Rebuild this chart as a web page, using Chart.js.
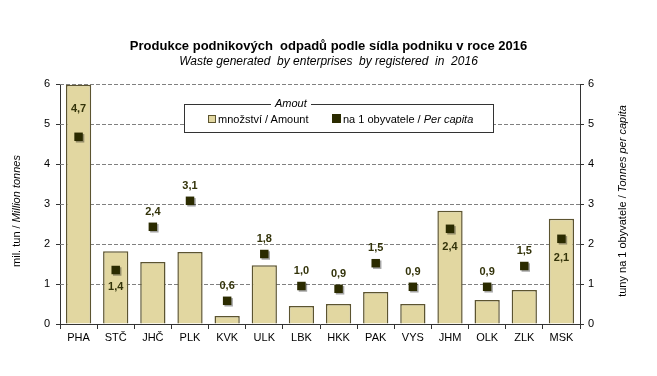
<!DOCTYPE html>
<html>
<head>
<meta charset="utf-8">
<script src="https://cdn.jsdelivr.net/npm/chart.js@4/dist/chart.umd.min.js"></script>
<style>
  body { margin: 0; background: #fff; }
  #wrap { position: relative; width: 657px; height: 376px; }
  #legend {
    position: absolute; left: 184px; top: 104px; width: 308px; height: 27px;
    border: 1px solid #333; background: #fff;
    font: 11px "Liberation Sans", Arial, sans-serif; color: #000;
  }
  #legend .ttl { position: absolute; left: 86px; top: -8px; padding: 0 4px; background: #fff; font-style: italic; }
  #legend .item { position: absolute; top: 8px; white-space: nowrap; }
  #legend .sw { display: inline-block; width: 6px; height: 6px; margin-right: 2px; vertical-align: 0px; }
</style>
</head>
<body>
<div id="wrap">
  <canvas id="chart"></canvas>
  <div id="legend">
    <span class="ttl">Amout</span>
    <span class="item" style="left:23px"><span class="sw" style="background:#e2d7a1;border:1px solid #5c5430"></span>množství / Amount</span>
    <span class="item" style="left:147px"><span class="sw" style="background:#2b2b00;border:1px solid #2b2b00;width:7px;height:7px"></span>na 1 obyvatele / <i>Per capita</i></span>
  </div>
</div>
<script>
// Data
const regions = ['PHA', 'STČ', 'JHČ', 'PLK', 'KVK', 'ULK', 'LBK', 'HKK', 'PAK', 'VYS', 'JHM', 'OLK', 'ZLK', 'MSK'];
const amount = [5.98, 1.82, 1.55, 1.80, 0.20, 1.47, 0.45, 0.50, 0.80, 0.50, 2.83, 0.60, 0.85, 2.63];   // mil. tun
const perCapita = [4.7, 1.4, 2.4, 3.1, 0.6, 1.8, 1.0, 0.9, 1.5, 0.9, 2.4, 0.9, 1.5, 2.1]; // label values
const perCapitaPos = [4.68, 1.35, 2.43, 3.08, 0.58, 1.75, 0.95, 0.88, 1.52, 0.93, 2.38, 0.93, 1.45, 2.13];
const yTicks = [0, 1, 2, 3, 4, 5, 6];

// label offset (px) from marker, negative = above
const labelDy = [-28, 17, -15, -15, -15, -15, -15, -15, -15, -15, 18, -15, -15, 19];

const FONT = '"Liberation Sans", Arial, sans-serif';

// dashed gridlines behind the bars
const gridPlugin = {
  id: 'dashGrid',
  beforeDatasetsDraw(chart) {
    const { ctx, chartArea: a, scales: { y } } = chart;
    ctx.save();
    ctx.strokeStyle = '#808080';
    ctx.lineWidth = 1;
    ctx.setLineDash([4, 2]);
    yTicks.forEach(v => {
      if (v === 0) return;
      const py = Math.round(y.getPixelForValue(v)) + 0.5;
      ctx.beginPath();
      ctx.moveTo(a.left, py);
      ctx.lineTo(a.right, py);
      ctx.stroke();
    });
    ctx.restore();
  }
};

// value labels and axis titles
const textPlugin = {
  id: 'texts',
  beforeDatasetDraw(chart, args) {
    if (args.index === 1) {
      const ctx = chart.ctx;
      ctx.save();
      ctx.shadowColor = 'rgba(0,0,0,0.35)';
      ctx.shadowOffsetX = 1.5;
      ctx.shadowOffsetY = 1.5;
    }
  },
  afterDatasetDraw(chart, args) {
    if (args.index === 1) chart.ctx.restore();
  },
  afterDraw(chart) {
    const ctx = chart.ctx;
    const meta = chart.getDatasetMeta(1);
    ctx.save();
    ctx.font = 'bold 11px ' + FONT;
    ctx.fillStyle = '#33330a';
    ctx.textAlign = 'center';
    ctx.textBaseline = 'middle';
    meta.data.forEach((pt, i) => {
      const txt = perCapita[i].toFixed(1).replace('.', ',');
      ctx.fillText(txt, pt.x, pt.y + labelDy[i]);
    });
    ctx.restore();

    const drawTitle = (x, y, parts) => {
      ctx.save();
      ctx.translate(x, y);
      ctx.rotate(-Math.PI / 2);
      ctx.fillStyle = '#000';
      ctx.textBaseline = 'middle';
      let total = 0;
      parts.forEach(p => { ctx.font = p.font; total += ctx.measureText(p.text).width; });
      let cx = -total / 2;
      ctx.textAlign = 'left';
      parts.forEach(p => {
        ctx.font = p.font;
        ctx.fillText(p.text, cx, 0);
        cx += ctx.measureText(p.text).width;
      });
      ctx.restore();
    };
    drawTitle(17, 211, [
      { text: 'mil. tun / ', font: '11px ' + FONT },
      { text: 'Million tonnes', font: 'italic 11px ' + FONT }
    ]);
    drawTitle(623, 201, [
      { text: 'tuny na 1 obyvatele / ', font: '11px ' + FONT },
      { text: 'Tonnes per capita', font: 'italic 11px ' + FONT }
    ]);
  }
};

const ctx = document.getElementById('chart').getContext('2d');
const chart = new Chart(ctx, {
  type: 'bar',
  data: {
    labels: regions,
    datasets: [
      {
        label: 'množství / Amount',
        data: amount,
        yAxisID: 'y',
        backgroundColor: '#e2d7a1',
        borderColor: '#5c5430',
        borderWidth: 1.5,
        barPercentage: 0.68,
        categoryPercentage: 1,
        order: 1
      },
      {
        type: 'line',
        label: 'na 1 obyvatele / Per capita',
        data: perCapitaPos,
        yAxisID: 'y1',
        showLine: false,
        pointStyle: 'rect',
        pointRadius: 6,
        pointBackgroundColor: '#2b2b00',
        pointBorderColor: '#2b2b00',
        pointBorderWidth: 0,
        order: 0
      }
    ]
  },
  options: {
    responsive: true,
    maintainAspectRatio: false,
    animation: false,
    events: [],
    layout: { padding: 0 },
    plugins: {
      legend: { display: false },
      tooltip: { enabled: false },
      title: {
        display: true,
        text: 'Produkce podnikových  odpadů podle sídla podniku v roce 2016',
        color: '#000',
        font: { family: FONT, size: 13, weight: 'bold' },
        padding: { top: 39, bottom: 0 }
      },
      subtitle: {
        display: true,
        text: 'Waste generated  by enterprises  by registered  in  2016',
        color: '#000',
        font: { family: FONT, size: 12, style: 'italic' },
        padding: { top: 0, bottom: 15 }
      }
    },
    scales: {
      x: {
        afterFit(s) { s.height = 52; },
        grid: { offset: true, drawOnChartArea: false, tickLength: 5, color: '#333' },
        border: { color: '#333', width: 1 },
        ticks: { color: '#000', font: { family: FONT, size: 11 }, padding: 2, maxRotation: 0 }
      },
      y: {
        position: 'left',
        min: 0, max: 6,
        afterFit(s) { s.width = 60; },
        afterBuildTicks(s) { s.ticks = yTicks.map(v => ({ value: v })); },
        grid: { drawOnChartArea: false, tickLength: 4, color: '#333' },
        border: { color: '#333', width: 1 },
        ticks: { color: '#000', font: { family: FONT, size: 11 }, padding: 6 }
      },
      y1: {
        position: 'right',
        min: 0, max: 6,
        afterFit(s) { s.width = 77; },
        afterBuildTicks(s) { s.ticks = yTicks.map(v => ({ value: v })); },
        grid: { drawOnChartArea: false, tickLength: 4, color: '#333' },
        border: { color: '#333', width: 1 },
        ticks: { color: '#000', font: { family: FONT, size: 11 }, padding: 4 }
      }
    }
  },
  plugins: [gridPlugin, textPlugin]
});
</script>
</body>
</html>
